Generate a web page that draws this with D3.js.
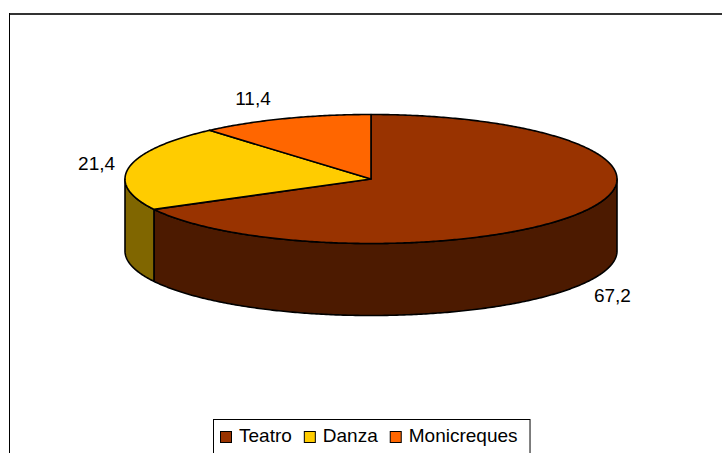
<!DOCTYPE html>
<html>
<head>
<meta charset="utf-8">
<script src="https://cdn.jsdelivr.net/npm/d3@7"></script>
<style>
  body { margin: 0; background: #fff; }
  text { font-family: "Liberation Sans", Arial, sans-serif; }
</style>
</head>
<body>
<svg id="chart"></svg>
<script>
// Data
const categories = ["Teatro", "Danza", "Monicreques"];
const values = [67.2, 21.4, 11.4];
const labels = ["67,2", "21,4", "11,4"];
const topColors = ["#993300", "#FFCC00", "#FF6600"];
const sideColors = ["#4C1A00", "#806600", "#803300"];

// Dimensions
const width = 722, height = 453;
const pie3d = { cx: 371, cy: 179, rx: 246, ry: 64.5, depth: 72 };

const svg = d3.select("#chart")
  .attr("width", width)
  .attr("height", height);

svg.append("rect").attr("width", width).attr("height", height).attr("fill", "#fff");

// chart area border (only top and left visible)
svg.append("line")
  .attr("x1", 9).attr("x2", width).attr("y1", 14).attr("y2", 14)
  .attr("stroke", "#333").attr("stroke-width", 2);
svg.append("line")
  .attr("x1", 9.5).attr("x2", 9.5).attr("y1", 13).attr("y2", height)
  .attr("stroke", "#000").attr("stroke-width", 1);

// Angles from d3.pie, clockwise from 12 o'clock
const arcs = d3.pie().sort(null).startAngle(0).endAngle(2 * Math.PI)(values);

// point on ellipse for angle a (0 = top, clockwise)
function pt(a, dy) {
  return [pie3d.cx + pie3d.rx * Math.sin(a), pie3d.cy - pie3d.ry * Math.cos(a) + (dy || 0)];
}
function arcPoints(a0, a1, dy) {
  const n = Math.max(2, Math.ceil(Math.abs(a1 - a0) / 0.01));
  const pts = [];
  for (let i = 0; i <= n; i++) pts.push(pt(a0 + (a1 - a0) * i / n, dy));
  return pts;
}
const line = d3.line();

// Side walls (front half only: angles between PI/2 and 3PI/2)
const g = svg.append("g");
arcs.forEach((d, i) => {
  const s0 = Math.max(d.startAngle, Math.PI / 2);
  const s1 = Math.min(d.endAngle, 3 * Math.PI / 2);
  if (s1 <= s0) return;
  const pts = arcPoints(s0, s1, 0).concat(arcPoints(s1, s0, pie3d.depth));
  g.append("path")
    .attr("d", line(pts) + "Z")
    .attr("fill", sideColors[i])
    .attr("stroke", "#000")
    .attr("stroke-width", 1.6)
    .attr("stroke-linejoin", "round");
});

// Top faces
arcs.forEach((d, i) => {
  const pts = [[pie3d.cx, pie3d.cy]].concat(arcPoints(d.startAngle, d.endAngle, 0));
  g.append("path")
    .attr("d", line(pts) + "Z")
    .attr("fill", topColors[i])
    .attr("stroke", "#000")
    .attr("stroke-width", 1.6)
    .attr("stroke-linejoin", "round");
});

// Data labels
arcs.forEach((d, i) => {
  const mid = (d.startAngle + d.endAngle) / 2;
  const front = Math.cos(mid) < 0;
  const p = pt(mid, front ? pie3d.depth : 0);
  const right = Math.sin(mid) > 0;
  svg.append("text")
    .attr("x", p[0] + (right ? 12 : -14))
    .attr("y", p[1] - 22 * Math.cos(mid) + 7)
    .attr("text-anchor", right ? "start" : "end")
    .attr("font-size", 19)
    .attr("fill", "#000")
    .text(labels[i]);
});

// Legend
const legend = svg.append("g");
const legendBox = legend.append("rect")
  .attr("fill", "#fff")
  .attr("stroke", "#000")
  .attr("stroke-width", 1);
let lx = 220;
const ly = 442;
categories.forEach((c, i) => {
  legend.append("rect")
    .attr("x", lx + 0.5).attr("y", ly - 10.5)
    .attr("width", 11).attr("height", 11)
    .attr("fill", topColors[i])
    .attr("stroke", "#000")
    .attr("stroke-width", 1);
  const t = legend.append("text")
    .attr("x", lx + 19)
    .attr("y", ly)
    .attr("font-size", 19)
    .attr("fill", "#000")
    .text(c);
  lx += 19 + t.node().getComputedTextLength() + 12;
});
legendBox
  .attr("x", 213.5).attr("y", 419.5)
  .attr("width", lx - 12 + 12 - 213)
  .attr("height", 60);
</script>
</body>
</html>
